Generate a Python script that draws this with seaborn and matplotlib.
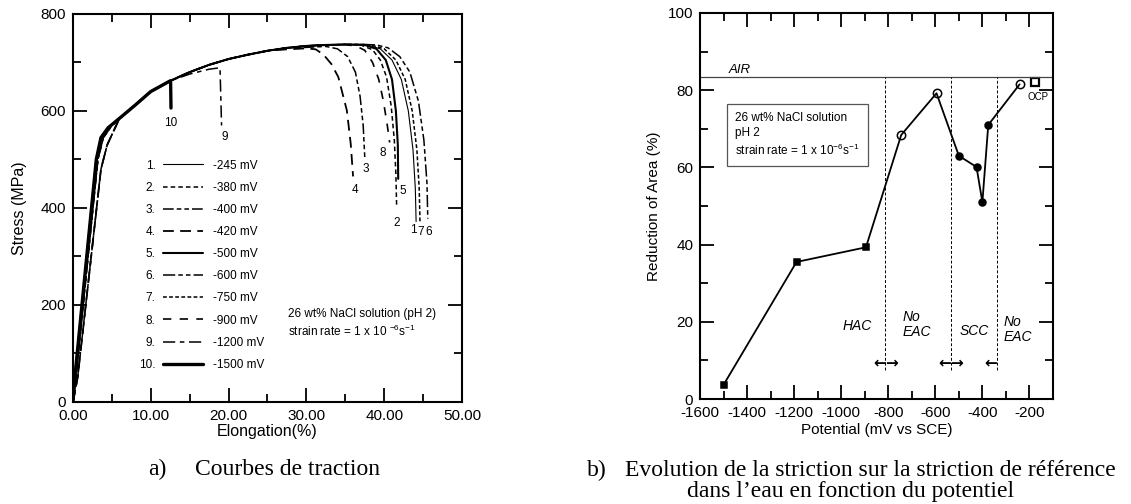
import matplotlib
matplotlib.use("Agg")
import matplotlib.pyplot as plt
from matplotlib.ticker import MultipleLocator, FormatStrFormatter
import seaborn as sns

# ---- a) tensile curves: elongation (%) vs stress (MPa) ----
# shared hardening part
rise_elong = [6, 8, 10, 12.5, 15, 17.5, 20, 22.5, 25, 27.5, 30, 32.5, 35, 37.5]
rise_stress = [585, 612, 640, 662, 680, 695, 707, 716, 724, 730, 734, 736, 737, 737]

# elastic parts (three slightly shifted groups)
start_a_elong = [0, 0.3, 3.0, 3.6, 4.5]
start_a_stress = [0, 60, 500, 545, 565]
start_b_elong = [0, 0.4, 3.2, 3.9, 5.0]
start_b_stress = [0, 55, 500, 545, 570]
start_c_elong = [0, 0.6, 3.6, 4.4, 5.5]
start_c_stress = [0, 50, 480, 530, 568]

# fracture tails
tail1_elong = [38.0, 39.5, 41.0, 42.2, 43.1, 43.7, 44.0, 44.1]
tail1_stress = [735, 728, 705, 665, 600, 520, 440, 372]
tail2_elong = [37.0, 38.5, 39.5, 40.3, 40.9, 41.3, 41.5, 41.6]
tail2_stress = [736, 726, 705, 670, 610, 540, 470, 403]
tail3_elong = [30.0, 32.5, 34.0, 35.3, 36.3, 36.9, 37.3, 37.5]
tail3_stress = [731, 733, 728, 712, 680, 630, 570, 505]
tail4_elong = [27.5, 30.0, 31.2, 32.2, 33.2, 34.1, 35.2, 35.7, 36.0]
tail4_stress = [727, 729, 727, 716, 697, 670, 601, 532, 465]
tail5_elong = [37.5, 39.0, 40.2, 41.0, 41.5, 41.75, 41.8]
tail5_stress = [736, 728, 705, 665, 600, 530, 460]
tail6_elong = [39.0, 40.5, 42.0, 43.3, 44.4, 45.1, 45.5, 45.6]
tail6_stress = [736, 730, 712, 680, 620, 540, 450, 378]
tail7_elong = [38.5, 40.0, 41.5, 42.7, 43.6, 44.2, 44.5, 44.6]
tail7_stress = [735, 728, 705, 665, 600, 520, 440, 372]
tail8_elong = [36.5, 37.5, 38.5, 39.3, 39.9, 40.4, 40.7]
tail8_stress = [733, 725, 700, 665, 620, 570, 535]
tail9_elong = [15.0, 17.5, 18.9, 19.1]
tail9_stress = [676, 686, 689, 570]
tail10_elong = [12.55, 12.6]
tail10_stress = [661, 606]

curve_numbers = ["1.", "2.", "3.", "4.", "5.", "6.", "7.", "8.", "9.", "10."]
potentials = ["-245 mV", "-380 mV", "-400 mV", "-420 mV", "-500 mV",
              "-600 mV", "-750 mV", "-900 mV", "-1200 mV", "-1500 mV"]
end_labels = ["1", "2", "3", "4", "5", "6", "7", "8", "9", "10"]
end_label_elong = [43.8, 41.6, 37.6, 36.3, 42.4, 45.7, 44.75, 39.8, 19.5, 12.6]
end_label_stress = [355, 370, 480, 437, 434, 350, 350, 514, 546, 575]

# ---- b) reduction of area vs potential ----
potential = [-1500, -1190, -895, -745, -595, -500, -425, -400, -375, -242]
reduction = [3.7, 35.5, 39.3, 68.4, 79.2, 63.0, 60.1, 51.0, 71.0, 81.5]
marker_kind = ["fs", "fs", "fs", "oc", "oc", "fc", "fc", "fc", "fc", "oc"]
ocp_potential = [-176]
ocp_reduction = [82.0]
air_level = 83.3
boundaries = [-812, -535, -340]

sns.set_style("ticks")
plt.rcParams["font.family"] = ["Liberation Sans", "DejaVu Sans"]
plt.rcParams["mathtext.fontset"] = "custom"
plt.rcParams["mathtext.rm"] = "Liberation Sans"
plt.rcParams["axes.unicode_minus"] = False
for key in ["text.color", "axes.labelcolor", "xtick.color", "ytick.color",
            "axes.edgecolor"]:
    plt.rcParams[key] = "black"

fig = plt.figure(figsize=(11.31, 5.04), dpi=100)
ax1 = fig.add_axes([0.0645, 0.2024, 0.344, 0.770])
ax2 = fig.add_axes([0.619, 0.2083, 0.312, 0.766])

styles = [
    dict(lw=0.8, linestyle="-"),
    dict(lw=1.1, linestyle=(0, (3, 2))),
    dict(lw=1.1, linestyle=(0, (7, 2, 3, 2, 3, 2))),
    dict(lw=1.3, linestyle=(0, (6, 3.5))),
    dict(lw=1.5, linestyle="-"),
    dict(lw=1.1, linestyle=(0, (8, 2, 3, 2, 3, 2))),
    dict(lw=1.1, linestyle=(0, (2.5, 1.5))),
    dict(lw=1.2, linestyle=(0, (5, 5))),
    dict(lw=1.1, linestyle=(0, (8, 3, 3, 3))),
    dict(lw=2.4, linestyle="-"),
]
starts = [
    (start_a_elong, start_a_stress), (start_b_elong, start_b_stress),
    (start_b_elong, start_b_stress), (start_c_elong, start_c_stress),
    (start_a_elong, start_a_stress), (start_c_elong, start_c_stress),
    (start_b_elong, start_b_stress), (start_b_elong, start_b_stress),
    (start_c_elong, start_c_stress), (start_a_elong, start_a_stress),
]
tails = [
    (tail1_elong, tail1_stress), (tail2_elong, tail2_stress),
    (tail3_elong, tail3_stress), (tail4_elong, tail4_stress),
    (tail5_elong, tail5_stress), (tail6_elong, tail6_stress),
    (tail7_elong, tail7_stress), (tail8_elong, tail8_stress),
    (tail9_elong, tail9_stress), (tail10_elong, tail10_stress),
]

handles = []
for (se, ss), (te, ts), st in zip(starts, tails, styles):
    xs, ys = list(se), list(ss)
    for x, y in zip(rise_elong, rise_stress):
        if se[-1] < x < te[0]:
            xs.append(x)
            ys.append(y)
    xs += te
    ys += ts
    n = len(ax1.lines)
    sns.lineplot(x=xs, y=ys, ax=ax1, color="black", sort=False,
                 estimator=None, **st)
    handles.append(ax1.lines[n])

for lab, x, y in zip(end_labels, end_label_elong, end_label_stress):
    ax1.text(x, y, lab, fontsize=8.5, ha="center", va="center")

leg_a = ax1.legend(handles, curve_numbers, loc="upper left",
                   bbox_to_anchor=(0.155, 0.64), frameon=False,
                   fontsize=8.5, markerfirst=False, handlelength=3.4,
                   handletextpad=0.6, labelspacing=0.86, borderpad=0)
ax1.add_artist(leg_a)
blank = [plt.Line2D([], [], lw=0) for _ in potentials]
ax1.legend(blank, potentials, loc="upper left", bbox_to_anchor=(0.345, 0.64),
           frameon=False, fontsize=8.5, handlelength=0, handletextpad=0,
           labelspacing=0.86, borderpad=0)

ax1.text(27.7, 162, "26 wt% NaCl solution (pH 2)\nstrain rate = 1 x 10 $^{-6}$s$^{-1}$",
         fontsize=8.5, ha="left", va="center", linespacing=1.3)

ax1.set_xlim(0, 50)
ax1.set_ylim(0, 800)
ax1.xaxis.set_major_locator(MultipleLocator(10))
ax1.xaxis.set_minor_locator(MultipleLocator(5))
ax1.xaxis.set_major_formatter(FormatStrFormatter("%.2f"))
ax1.yaxis.set_major_locator(MultipleLocator(200))
ax1.yaxis.set_minor_locator(MultipleLocator(100))
ax1.set_xlabel("Elongation(%)", fontsize=11.5, labelpad=1)
ax1.set_ylabel("Stress (MPa)", fontsize=11.5, labelpad=10)

# ---- right panel ----
sns.lineplot(x=potential, y=reduction, ax=ax2, color="black", lw=1.3,
             estimator=None)
kinds = {
    "fs": dict(marker="s", markersize=5, mfc="black"),
    "oc": dict(marker="o", markersize=6, mfc="none"),
    "fc": dict(marker="o", markersize=5, mfc="black"),
}
for key, kw in kinds.items():
    px = [p for p, k in zip(potential, marker_kind) if k == key]
    py = [r for r, k in zip(reduction, marker_kind) if k == key]
    sns.lineplot(x=px, y=py, ax=ax2, linestyle="none", markeredgecolor="black",
                 mew=1.1, estimator=None, **kw)
sns.lineplot(x=ocp_potential, y=ocp_reduction, ax=ax2, linestyle="none",
             marker="s", markersize=5.5, mfc="none", markeredgecolor="black",
             mew=1.6, estimator=None)
ax2.text(-163, 78.2, "OCP", fontsize=7, ha="center", va="center")

ax2.axhline(air_level, color="#444444", lw=0.9)
ax2.text(-1478, 85.3, "AIR", fontsize=9.5, style="italic", ha="left", va="center")
for b in boundaries:
    ax2.plot([b, b], [7.5, air_level], color="black", lw=0.7,
             linestyle=(0, (3, 2)))

ax2.text(-1450, 68.4, "26 wt% NaCl solution\npH 2\nstrain rate = 1 x 10$^{-6}$s$^{-1}$",
         fontsize=8.5, ha="left", va="center", linespacing=1.3,
         bbox=dict(boxstyle="square,pad=0.7", fc="white", ec="#555555", lw=0.9))

ax2.text(-931, 18.9, "HAC", fontsize=10, style="italic", ha="center", va="center")
ax2.text(-738, 19.3, "No\nEAC", fontsize=10, style="italic", ha="left", va="center",
         linespacing=1.1)
ax2.text(-436, 17.7, "SCC", fontsize=10, style="italic", ha="center", va="center")
ax2.text(-312, 17.9, "No\nEAC", fontsize=10, style="italic", ha="left", va="center",
         linespacing=1.1)
for x, a in [(-838, "\u2190"), (-787, "\u2192"), (-559, "\u2190"),
             (-509, "\u2192"), (-365, "\u2190")]:
    ax2.text(x, 9.4, a, fontsize=11, ha="center", va="center",
             family="DejaVu Sans", fontweight="bold")

ax2.set_xlim(-1600, -100)
ax2.set_ylim(0, 100)
ax2.set_xticks([-1600, -1400, -1200, -1000, -800, -600, -400, -200])
ax2.xaxis.set_minor_locator(MultipleLocator(100))
ax2.yaxis.set_major_locator(MultipleLocator(20))
ax2.yaxis.set_minor_locator(MultipleLocator(10))
ax2.set_xlabel("Potential (mV vs SCE)", fontsize=11, labelpad=2)
ax2.set_ylabel("Reduction of Area (%)", fontsize=11, labelpad=5)

for ax in (ax1, ax2):
    for sp in ax.spines.values():
        sp.set_linewidth(1.5)
        sp.set_visible(True)
    ax.tick_params(which="both", direction="in", top=True, right=True,
                   width=1.3, labelsize=11, pad=5)
    ax.tick_params(which="major", length=10)
    ax.tick_params(which="minor", length=5.5)

# captions
fig.text(0.1309, 0.0575, "a)", family="Liberation Serif", fontsize=17)
fig.text(0.1724, 0.0575, "Courbes de traction", family="Liberation Serif",
         fontsize=17)
fig.text(0.519, 0.0556, "b)", family="Liberation Serif", fontsize=17)
fig.text(0.5526, 0.0556, "Evolution de la striction sur la striction de r\u00e9f\u00e9rence",
         family="Liberation Serif", fontsize=17)
fig.text(0.7524, 0.0139, "dans l\u2019eau en fonction du potentiel",
         family="Liberation Serif", fontsize=17, ha="center")

fig.savefig("out.png", dpi=100)
